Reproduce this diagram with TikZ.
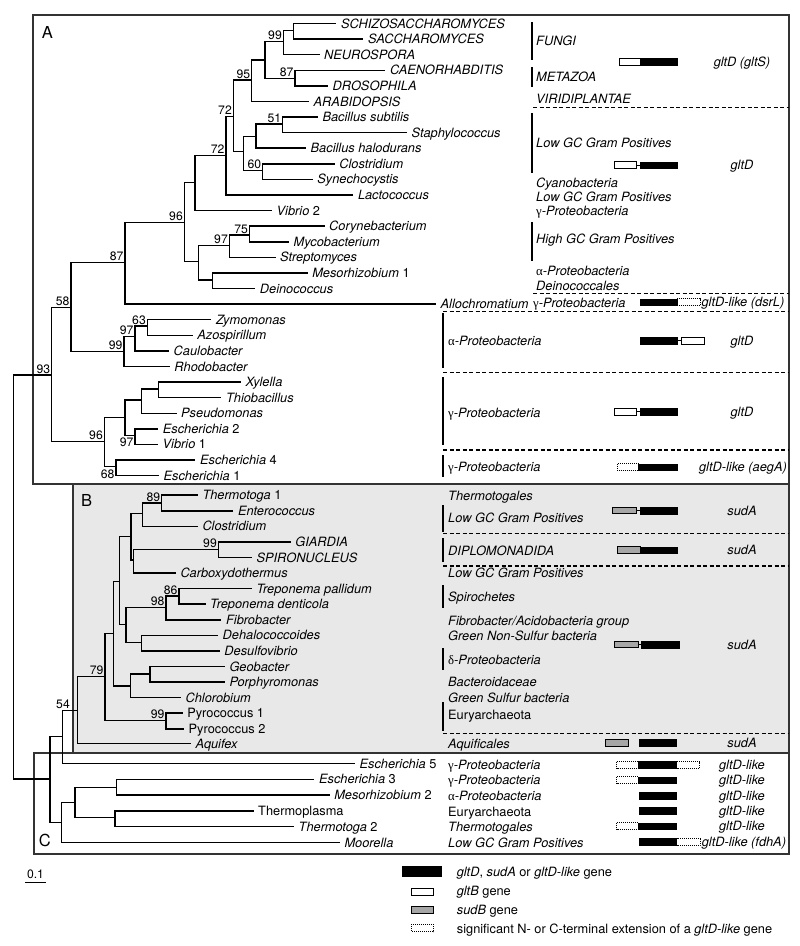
\documentclass[tikz,border=0pt]{standalone}
\usepackage{fontspec}
\setmainfont{TeX Gyre Heros}
\newfontfamily\grk{Liberation Serif}
\newcommand\GrA{{\grk\upshape α}}
\newcommand\GrG{{\grk\upshape γ}}
\newcommand\GrD{{\grk\upshape δ}}
\newcommand\fs{\fontsize{12.8}{15}\selectfont}
\newcommand\fsn{\fontsize{12.2}{14}\selectfont}
\newcommand\tbr[2]{\draw[tr] (#1) |- (#2);}
\newcommand\leaf[5][lf]{\coordinate (#2) at (#3,#4); \node[#1] (#2t) at (#2) {#5};}
\newcommand\gbx[4]{\draw[#1] (#2,#4-3.4) rectangle (#3,#4+3.4);}
\newcommand\gcn[3]{\draw[gcon] (#1,#3) -- (#2,#3);}
\begin{document}
\begin{tikzpicture}[x=1pt,y=-1pt,
  tr/.style={line width=1.5pt},
  lf/.style={anchor=base west, inner sep=0pt, xshift=4.5pt, yshift=-4.5pt, font=\fs\itshape},
  lfu/.style={lf, font=\fs\upshape},
  bs/.style={anchor=base east, inner sep=0pt, xshift=-1.3pt, yshift=2pt, font=\fsn},
  bsb/.style={anchor=north east, inner sep=0pt, xshift=-1.3pt, yshift=-2.5pt, font=\fsn},
  grp/.style={anchor=base west, inner sep=0pt, yshift=-4.5pt, font=\fs\itshape},
  grpu/.style={grp, font=\fs\upshape},
  bar/.style={line width=2pt},
  dsh/.style={line width=1.2pt, dash pattern=on 4pt off 2.5pt},
  frame/.style={draw=black!80, line width=2.4pt},
  glab/.style={anchor=base, inner sep=0pt, yshift=-4.5pt, font=\fs\itshape},
  legt/.style={anchor=base west, inner sep=0pt, yshift=-4.5pt, font=\fs},
  boxl/.style={font=\fontsize{16.5}{18}\selectfont, inner sep=0pt},
  gblack/.style={fill=black, draw=black, line width=0.6pt},
  gwhite/.style={fill=white, draw=black, line width=1pt},
  ggray/.style={fill=black!35, draw=black, line width=1pt},
  gdot/.style={fill=white, draw=black, line width=0.9pt, dash pattern=on 1pt off 1pt},
  gcon/.style={line width=1pt}
]
\useasboundingbox (0,0) rectangle (800,946);
\fill[white] (0,0) rectangle (800,946);

% frames
\fill[black!9] (73,484) rectangle (789,753);
\draw[frame] (73,484) rectangle (789,753);
\draw[frame] (33,15) rectangle (789,484);
\draw[frame] (34,753) rectangle (789,854);
\node[boxl] (LA) at (47.3,32) {A};
\node[boxl] (LB) at (86.7,500.5) {B};
\node[boxl] (LC) at (44.8,840) {C};

% ---------- internal nodes A ----------
\coordinate (root) at (13.3,577);
\coordinate (n93) at (51.7,375);
\coordinate (n58) at (71,307.3);
\coordinate (n87) at (125,262.7);
\coordinate (n96) at (184.3,222.7);
\coordinate (n195) at (195,182.7);
\coordinate (n72l) at (226,155.7);
\coordinate (n72u) at (233.3,116.7);
\coordinate (n95) at (251.7,80);
\coordinate (n265) at (265,60);
\coordinate (n99) at (283.3,41.7);
\coordinate (nSS) at (293.3,30.5);
\coordinate (n87f) at (295,78.3);
\coordinate (n243) at (243.3,151.7);
\coordinate (n256) at (256,136.7);
\coordinate (n51) at (282.7,124);
\coordinate (n60) at (262.7,170.7);
\coordinate (n198) at (198.3,261.7);
\coordinate (n97a) at (229.3,245.7);
\coordinate (n75) at (249.5,235);
\coordinate (nMD) at (212.3,280);
\coordinate (n99a) at (124,351.7);
\coordinate (n97b) at (135,336.7);
\coordinate (n63) at (147.3,326);
\coordinate (n96b) at (104.3,441.7);
\coordinate (n125) at (125,417.3);
\coordinate (n142) at (141.7,400);
\coordinate (nXT) at (158.3,389);
\coordinate (n97c) at (135,435.5);
\coordinate (n68) at (116,466.7);

% ---------- internal nodes B / C ----------
\coordinate (nX50) at (50,779);
\coordinate (n54) at (62.7,736.7);
\coordinate (nB) at (77.3,710.7);
\coordinate (n79) at (105,676.7);
\coordinate (n99P) at (166,720.5);
\coordinate (n113) at (113.3,633.3);
\coordinate (n131) at (130.7,686);
\coordinate (nGP) at (150,674);
\coordinate (n119) at (119.3,581.7);
\coordinate (nX1) at (131,536.7);
\coordinate (n143) at (142.7,513.3);
\coordinate (n89) at (161.7,503);
\coordinate (nX2) at (133.3,560);
\coordinate (n99G) at (218.3,549.5);
\coordinate (n126) at (126,624.3);
\coordinate (n98) at (166,607.7);
\coordinate (n86) at (179,596);
\coordinate (nDD) at (141.7,642.5);
\coordinate (nC) at (61.7,822.7);
\coordinate (n73) at (75,802.7);
\coordinate (n115) at (116.7,787.3);
\coordinate (n114) at (115,817.7);

% ---------- leaves A ----------
\leaf{Schizo}{336.4}{23.5}{SCHIZOSACCHAROMYCES}
\leaf{Sacch}{363.4}{39.1}{SACCHAROMYCES}
\leaf{Neuro}{319.5}{54.7}{NEUROSPORA}
\leaf{Caeno}{385.4}{70.3}{CAENORHABDITIS}
\leaf{Droso}{328}{85.9}{DROSOPHILA}
\leaf{Arabi}{309}{101.5}{ARABIDOPSIS}
\leaf{Bsub}{317.8}{117.0}{Bacillus subtilis}
\leaf{Staph}{407}{132.6}{Staphylococcus}
\leaf{Bhalo}{306}{148.2}{Bacillus halodurans}
\leaf{ClostA}{334.7}{163.8}{Clostridium}
\leaf{Synech}{312.7}{179.4}{Synechocystis}
\leaf{Lacto}{353.3}{195.0}{Lactococcus}
\leaf{VibB}{272}{210.6}{Vibrio {\upshape 2}}
\leaf{Coryne}{324.5}{226.2}{Corynebacterium}
\leaf{Myco}{289}{241.8}{Mycobacterium}
\leaf{Strepto}{275.5}{257.4}{Streptomyces}
\leaf{MesoA}{307.6}{272.9}{Mesorhizobium {\upshape 1}}
\leaf{Deino}{255.2}{288.5}{Deinococcus}
\leaf{Allo}{436}{304.1}{Allochromatium}
\leaf{Zymo}{211.3}{319.7}{Zymomonas}
\leaf{Azo}{192.7}{335.3}{Azospirillum}
\leaf{Caulo}{169}{350.9}{Caulobacter}
\leaf{Rhodo}{169.7}{366.5}{Rhodobacter}
\leaf{Xyl}{241}{382.1}{Xylella}
\leaf{Thio}{221.4}{397.7}{Thiobacillus}
\leaf{Pseudo}{176.5}{413.3}{Pseudomonas}
\leaf{EschB}{158.2}{428.8}{Escherichia {\upshape 2}}
\leaf{VibA}{158}{444.4}{Vibrio {\upshape 1}}
\leaf{EschD}{195.4}{460.0}{Escherichia {\upshape 4}}
\leaf{EschA}{159}{475.6}{Escherichia {\upshape 1}}

% ---------- leaves B ----------
\leaf{ThermA}{197.8}{495.2}{Thermotoga {\upshape 1}}
\leaf{Entero}{233.3}{510.8}{Enterococcus}
\leaf{ClostB}{197.8}{526.3}{Clostridium}
\leaf{Giardia}{290.7}{541.9}{GIARDIA}
\leaf{Spiro}{251.9}{557.5}{SPIRONUCLEUS}
\leaf{Carboxy}{175.8}{573.1}{Carboxydothermus}
\leaf{Tpal}{251.9}{588.6}{Treponema pallidum}
\leaf{Tden}{205.5}{604.2}{Treponema denticola}
\leaf{Fibro}{221.4}{619.8}{Fibrobacter}
\leaf{Dehalo}{218}{635.3}{Dehalococcoides}
\leaf{Desulfo}{219.7}{650.9}{Desulfovibrio}
\leaf{Geo}{224.8}{666.5}{Geobacter}
\leaf{Porph}{224.8}{682}{Porphyromonas}
\leaf{Chloro}{180.9}{697.6}{Chlorobium}
\leaf[lfu]{PyroA}{182.6}{713.2}{Pyrococcus 1}
\leaf[lfu]{PyroB}{184}{728.8}{Pyrococcus 2}
\leaf{Aquifex}{191}{743.5}{Aquifex}

% ---------- leaves C ----------
\leaf{EschE}{355}{763.5}{Escherichia {\upshape 5}}
\leaf{EschC}{314.4}{779.3}{Escherichia {\upshape 3}}
\leaf{MesoB}{329.6}{795}{Mesorhizobium {\upshape 2}}
\leaf[lfu]{Tplasma}{253.5}{810.8}{Thermoplasma}
\leaf{ThermB}{294}{826.7}{Thermotoga {\upshape 2}}
\leaf{Moorella}{339.8}{842.5}{Moorella}

% ---------- branches ----------
\tbr{root}{n93} \tbr{root}{nX50}
\tbr{n93}{n58} \tbr{n93}{n96b}
\tbr{n58}{n87} \tbr{n58}{n99a}
\tbr{n87}{n96} \tbr{n87}{Allo}
\tbr{n96}{n195} \tbr{n96}{n198}
\tbr{n195}{n72l} \tbr{n195}{VibB}
\tbr{n72l}{n72u} \tbr{n72l}{Lacto}
\tbr{n72u}{n95} \tbr{n72u}{n243}
\tbr{n95}{n265} \tbr{n95}{Arabi}
\tbr{n265}{n99} \tbr{n265}{n87f}
\tbr{n99}{nSS} \tbr{n99}{Neuro}
\tbr{nSS}{Schizo} \tbr{nSS}{Sacch}
\tbr{n87f}{Caeno} \tbr{n87f}{Droso}
\tbr{n243}{n256} \tbr{n243}{n60}
\tbr{n256}{n51} \tbr{n256}{Bhalo}
\tbr{n51}{Bsub} \tbr{n51}{Staph}
\tbr{n60}{ClostA} \tbr{n60}{Synech}
\tbr{n198}{n97a} \tbr{n198}{nMD}
\tbr{n97a}{n75} \tbr{n97a}{Strepto}
\tbr{n75}{Coryne} \tbr{n75}{Myco}
\tbr{nMD}{MesoA} \tbr{nMD}{Deino}
\tbr{n99a}{n97b} \tbr{n99a}{Rhodo}
\tbr{n97b}{n63} \tbr{n97b}{Caulo}
\tbr{n63}{Zymo} \tbr{n63}{Azo}
\tbr{n96b}{n125} \tbr{n96b}{n68}
\tbr{n125}{n142} \tbr{n125}{n97c}
\tbr{n142}{nXT} \tbr{n142}{Pseudo}
\tbr{nXT}{Xyl} \tbr{nXT}{Thio}
\tbr{n97c}{EschB} \tbr{n97c}{VibA}
\tbr{n68}{EschD} \tbr{n68}{EschA}
% B and C
\tbr{nX50}{n54} \tbr{nX50}{nC}
\tbr{n54}{nB} \tbr{n54}{EschE}
\tbr{nB}{n79} \tbr{nB}{Aquifex}
\tbr{n79}{n113} \tbr{n79}{n99P}
\tbr{n99P}{PyroA} \tbr{n99P}{PyroB}
\tbr{n113}{n119} \tbr{n113}{n131}
\tbr{n131}{nGP} \tbr{n131}{Chloro}
\tbr{nGP}{Geo} \tbr{nGP}{Porph}
\tbr{n119}{nX1} \tbr{n119}{n126}
\tbr{nX1}{n143} \tbr{nX1}{nX2}
\tbr{n143}{n89} \tbr{n143}{ClostB}
\tbr{n89}{ThermA} \tbr{n89}{Entero}
\tbr{nX2}{n99G} \tbr{nX2}{Carboxy}
\tbr{n99G}{Giardia} \tbr{n99G}{Spiro}
\tbr{n126}{n98} \tbr{n126}{nDD}
\tbr{n98}{n86} \tbr{n98}{Fibro}
\tbr{n86}{Tpal} \tbr{n86}{Tden}
\tbr{nDD}{Dehalo} \tbr{nDD}{Desulfo}
\tbr{nC}{n73} \tbr{nC}{Moorella}
\tbr{n73}{n115} \tbr{n73}{n114}
\tbr{n115}{EschC} \tbr{n115}{MesoB}
\tbr{n114}{Tplasma} \tbr{n114}{ThermB}

% ---------- support values ----------
\node[bs] (s99) at (n99) {99};
\node[bs] (s87f) at (n87f) {87};
\node[bs] (s95) at (n95) {95};
\node[bs] (s72u) at (n72u) {72};
\node[bs] (s51) at (n51) {51};
\node[bs] (s60) at (n60) {60};
\node[bs] (s72l) at (n72l) {72};
\node[bs] (s96) at (n96) {96};
\node[bs] (s75) at (n75) {75};
\node[bs] (s97a) at (n97a) {97};
\node[bs] (s87) at (n87) {87};
\node[bs] (s58) at (n58) {58};
\node[bs] (s63) at (n63) {63};
\node[bs] (s97b) at (n97b) {97};
\node[bs] (s99a) at (n99a) {99};
\node[bs] (s93) at (n93) {93};
\node[bs] (s96b) at (n96b) {96};
\node[bsb] (s97c) at (n97c) {97};
\node[bsb] (s68) at (n68) {68};
\node[bs] (s89) at (n89) {89};
\node[bs] (s99G) at (n99G) {99};
\node[bs] (s86) at (n86) {86};
\node[bs] (s98) at (n98) {98};
\node[bs] (s79) at (n79) {79};
\node[bs] (s99P) at (n99P) {99};
\node[bs, xshift=-6pt] (s54) at (nB) {54};

% ---------- group bars and dashed separators ----------
\foreach \ya/\yb in {22/60, 67/87, 113/173, 222/261}
  \draw[bar] (532,\ya) -- (532,\yb);
\foreach \ya/\yb in {313/368, 377/445, 455/477, 505/532, 538/562, 585/608, 648/670, 702/731}
  \draw[bar] (443,\ya) -- (443,\yb);
\foreach \y in {107.3, 293.3}
  \draw[dsh] (533,\y) -- (789,\y);
\foreach \y in {311.7, 372.7, 450, 533.3, 566, 733.3}
  \draw[dsh] (443,\y) -- (789,\y);

% ---------- group labels ----------
\node[grp] (gFungi) at (536,41) {FUNGI};
\node[grp] (gMeta) at (536,77.3) {METAZOA};
\node[grp] (gViri) at (536,99.3) {VIRIDIPLANTAE};
\node[grp] (gLowA) at (536,143.3) {Low GC Gram Positives};
\node[grp] (gCyano) at (536,182.7) {Cyanobacteria};
\node[grp] (gLowB) at (536,196.7) {Low GC Gram Positives};
\node[grp] (gGamA) at (536,210.5) {\GrG-Proteobacteria};
\node[grp] (gHigh) at (536,239.3) {High GC Gram Positives};
\node[grp] (gAlpA) at (536,270.7) {\GrA-Proteobacteria};
\node[grp] (gDeino) at (536,285.5) {Deinococcales};
\node[grp] (gGamB) at (533,302.7) {\GrG-Proteobacteria};
\node[grp] (gAlpB) at (448,340.7) {\GrA-Proteobacteria};
\node[grp] (gGamC) at (448,413.3) {\GrG-Proteobacteria};
\node[grp] (gGamD) at (448,466.7) {\GrG-Proteobacteria};
\node[grp] (gTtA) at (448,495.5) {Thermotogales};
\node[grp] (gLowC) at (448,518.3) {Low GC Gram Positives};
\node[grp] (gDiplo) at (448,550.7) {DIPLOMONADIDA};
\node[grp] (gLowD) at (448,573.3) {Low GC Gram Positives};
\node[grp] (gSpiro) at (448,596.7) {Spirochetes};
\node[grp] (gFibro) at (448,620.7) {Fibrobacter/Acidobacteria group};
\node[grp] (gGNS) at (448,636.2) {Green Non-Sulfur bacteria};
\node[grp] (gDelta) at (448,660) {\GrD-Proteobacteria};
\node[grp] (gBact) at (448,681.7) {Bacteroidaceae};
\node[grp] (gGS) at (448,698.3) {Green Sulfur bacteria};
\node[grpu] (gEuA) at (448,715) {Euryarchaeota};
\node[grp] (gAquif) at (448,744) {Aquificales};
\node[grp] (gGamE) at (448,764.5) {\GrG-Proteobacteria};
\node[grp] (gGamF) at (448,780) {\GrG-Proteobacteria};
\node[grp] (gAlpC) at (448,796) {\GrA-Proteobacteria};
\node[grpu] (gEuB) at (448,811.5) {Euryarchaeota};
\node[grp] (gTtB) at (448,827) {Thermotogales};
\node[grp] (gLowE) at (448,843) {Low GC Gram Positives};

% ---------- gene diagrams ----------
\gbx{gwhite}{619.3}{640}{61.7} \gbx{gblack}{640}{677.3}{61.7}
\gcn{636.7}{640}{165.3} \gbx{gwhite}{614.3}{636.7}{165.3} \gbx{gblack}{640}{677.3}{165.3}
\gbx{gdot}{677.3}{700}{302.3} \gbx{gblack}{640}{677.3}{302.3}
\gcn{677.3}{681.7}{340.7} \gbx{gblack}{640}{677.3}{340.7} \gbx{gwhite}{681.7}{704}{340.7}
\gcn{636.7}{640}{411.7} \gbx{gwhite}{614.3}{636.7}{411.7} \gbx{gblack}{640}{677.3}{411.7}
\gbx{gdot}{617.3}{638.3}{467.3} \gbx{gblack}{638.3}{677.3}{467.3}
\gcn{636.7}{640}{510.5} \gbx{ggray}{612.7}{636.7}{510.5} \gbx{gblack}{640}{677.3}{510.5}
\gbx{ggray}{617.3}{640.7}{550.3} \gbx{gblack}{640.7}{677.3}{550.3}
\gcn{638.3}{641.7}{644.5} \gbx{ggray}{614}{638.3}{644.5} \gbx{gblack}{641.7}{679}{644.5}
\gbx{ggray}{605}{628.3}{743} \gbx{gblack}{639.3}{676.7}{743}
\gbx{gdot}{616.7}{638.3}{765} \gbx{gdot}{676.7}{699.3}{765} \gbx{gblack}{638.3}{676.7}{765}
\gbx{gdot}{616.7}{638.3}{780.3} \gbx{gblack}{638.3}{676.7}{780.3}
\gbx{gblack}{639.3}{676.7}{796}
\gbx{gblack}{639.3}{676.7}{811}
\gbx{gdot}{616.7}{638.3}{826.3} \gbx{gblack}{638.3}{676.7}{826.3}
\gbx{gdot}{676.7}{700}{842} \gbx{gblack}{639.3}{676.7}{842}

\node[glab] (kA) at (742,61.7) {gltD (gltS)};
\node[glab] (kB) at (742,165.3) {gltD};
\node[glab] (kC) at (743,302.3) {gltD-like (dsrL)};
\node[glab] (kD) at (742,340.7) {gltD};
\node[glab] (kE) at (742,411.7) {gltD};
\node[glab] (kF) at (743,467.3) {gltD-like (aegA)};
\node[glab] (kG) at (742,510.5) {sudA};
\node[glab] (kH) at (742,550.3) {sudA};
\node[glab] (kI) at (742,644.5) {sudA};
\node[glab] (kJ) at (742,743) {sudA};
\node[glab] (kK) at (742,765) {gltD-like};
\node[glab] (kL) at (742,780.3) {gltD-like};
\node[glab] (kM) at (742,796) {gltD-like};
\node[glab] (kN) at (742,811) {gltD-like};
\node[glab] (kO) at (742,826.3) {gltD-like};
\node[glab] (kP) at (744,842) {gltD-like (fdhA)};

% ---------- legend ----------
\draw[gblack] (402.7,866.7) rectangle (441.7,876.7);
\draw[gwhite] (411.7,888) rectangle (433.3,895.4);
\draw[ggray] (411.7,906.5) rectangle (433.3,913.9);
\draw[gdot] (411.7,924.3) rectangle (433.3,931.7);
\node[legt] (tA) at (456.7,871.7) {\textit{gltD}, \textit{sudA} or \textit{gltD-like} gene};
\node[legt] (tB) at (456.7,891) {\textit{gltB} gene};
\node[legt] (tC) at (456.7,910) {\textit{sudB} gene};
\node[legt] (tD) at (456.7,929) {significant N- or C-terminal extension of a \textit{gltD-like} gene};

% scale bar
\node[font=\fsn, inner sep=0pt] (scl) at (35.5,873.8) {0.1};
\draw[line width=1.3pt] (25.4,882.3) -- (45.6,882.3);
\end{tikzpicture}
\end{document}
